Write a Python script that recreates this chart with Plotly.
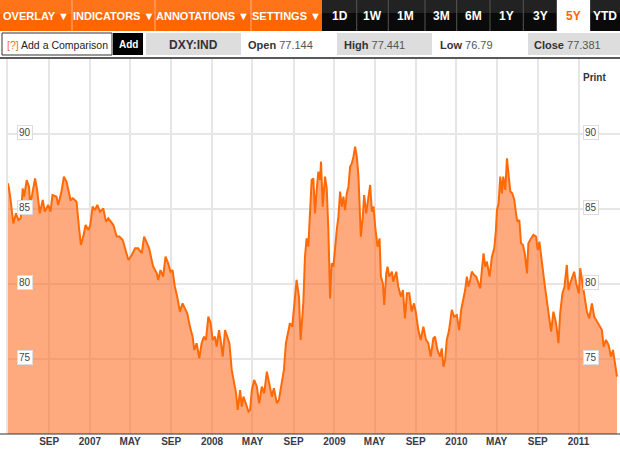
import plotly.graph_objects as go

# ---------------- data ----------------
dates = [
    "2006-05-01", "2006-05-07", "2006-05-17", "2006-05-25", "2006-06-01", "2006-06-08", "2006-06-14", "2006-06-18",
    "2006-06-26", "2006-07-03", "2006-07-06", "2006-07-12", "2006-07-21", "2006-07-27", "2006-08-04", "2006-08-13",
    "2006-08-19", "2006-08-29", "2006-09-05", "2006-09-11", "2006-09-23", "2006-09-28", "2006-10-08", "2006-10-15",
    "2006-10-23", "2006-10-30", "2006-11-04", "2006-11-11", "2006-11-22", "2006-11-29", "2006-12-05", "2006-12-12",
    "2006-12-19", "2006-12-27", "2007-01-02", "2007-01-09", "2007-01-16", "2007-01-23", "2007-01-31", "2007-02-10",
    "2007-02-18", "2007-02-25", "2007-03-04", "2007-03-12", "2007-03-22", "2007-03-30", "2007-04-09", "2007-04-19",
    "2007-04-26", "2007-05-06", "2007-05-16", "2007-05-25", "2007-06-05", "2007-06-12", "2007-06-20", "2007-06-27",
    "2007-07-09", "2007-07-20", "2007-07-24", "2007-07-31", "2007-08-08", "2007-08-15", "2007-08-23", "2007-08-30",
    "2007-09-05", "2007-09-12", "2007-09-19", "2007-09-27", "2007-10-05", "2007-10-12", "2007-10-19", "2007-10-27",
    "2007-11-04", "2007-11-09", "2007-11-16", "2007-11-24", "2007-12-01", "2007-12-08", "2007-12-14", "2007-12-21",
    "2007-12-28", "2008-01-03", "2008-01-10", "2008-01-15", "2008-01-22", "2008-01-28", "2008-02-02", "2008-02-09",
    "2008-02-16", "2008-02-22", "2008-02-29", "2008-03-07", "2008-03-13", "2008-03-18", "2008-03-25", "2008-03-30",
    "2008-04-04", "2008-04-11", "2008-04-19", "2008-04-24", "2008-04-29", "2008-05-06", "2008-05-14", "2008-05-21",
    "2008-05-29", "2008-06-05", "2008-06-13", "2008-06-20", "2008-06-28", "2008-07-04", "2008-07-13", "2008-07-19",
    "2008-07-27", "2008-08-03", "2008-08-09", "2008-08-16", "2008-08-21", "2008-08-28", "2008-09-02", "2008-09-10",
    "2008-09-17", "2008-09-22", "2008-09-30", "2008-10-05", "2008-10-10", "2008-10-15", "2008-10-20", "2008-10-25",
    "2008-10-30", "2008-11-04", "2008-11-09", "2008-11-14", "2008-11-19", "2008-11-22", "2008-11-27", "2008-12-04",
    "2008-12-09", "2008-12-14", "2008-12-19", "2008-12-24", "2008-12-29", "2009-01-03", "2009-01-08", "2009-01-13",
    "2009-01-18", "2009-01-23", "2009-01-28", "2009-02-02", "2009-02-07", "2009-02-12", "2009-02-17", "2009-02-22",
    "2009-02-27", "2009-03-04", "2009-03-09", "2009-03-14", "2009-03-17", "2009-03-21", "2009-03-27", "2009-03-31",
    "2009-04-06", "2009-04-13", "2009-04-18", "2009-04-23", "2009-04-28", "2009-05-03", "2009-05-10", "2009-05-16",
    "2009-05-20", "2009-05-26", "2009-05-30", "2009-06-05", "2009-06-09", "2009-06-14", "2009-06-22", "2009-06-26",
    "2009-07-05", "2009-07-11", "2009-07-19", "2009-07-25", "2009-07-31", "2009-08-06", "2009-08-13", "2009-08-20",
    "2009-08-27", "2009-09-02", "2009-09-09", "2009-09-16", "2009-09-24", "2009-10-02", "2009-10-09", "2009-10-16",
    "2009-10-24", "2009-10-29", "2009-11-05", "2009-11-13", "2009-11-18", "2009-11-23", "2009-11-28", "2009-12-03",
    "2009-12-10", "2009-12-18", "2009-12-25", "2010-01-02", "2010-01-09", "2010-01-15", "2010-01-22", "2010-01-27",
    "2010-02-01", "2010-02-06", "2010-02-11", "2010-02-16", "2010-02-23", "2010-03-01", "2010-03-08", "2010-03-13",
    "2010-03-18", "2010-03-23", "2010-03-28", "2010-04-02", "2010-04-10", "2010-04-17", "2010-04-24", "2010-04-29",
    "2010-05-02", "2010-05-07", "2010-05-12", "2010-05-17", "2010-05-21", "2010-05-27", "2010-06-01", "2010-06-05",
    "2010-06-11", "2010-06-17", "2010-06-23", "2010-06-28", "2010-07-02", "2010-07-08", "2010-07-13", "2010-07-19",
    "2010-07-25", "2010-07-31", "2010-08-04", "2010-08-12", "2010-08-19", "2010-08-27", "2010-09-01", "2010-09-06",
    "2010-09-13", "2010-09-20", "2010-09-28", "2010-10-06", "2010-10-11", "2010-10-18", "2010-10-26", "2010-11-02",
    "2010-11-07", "2010-11-14", "2010-11-20", "2010-11-27", "2010-12-02", "2010-12-07", "2010-12-12", "2010-12-19",
    "2010-12-25", "2011-01-02", "2011-01-06", "2011-01-11", "2011-01-18", "2011-01-26", "2011-02-02", "2011-02-10",
    "2011-02-17", "2011-02-25", "2011-03-04", "2011-03-12", "2011-03-17", "2011-03-24", "2011-04-01", "2011-04-08",
    "2011-04-14", "2011-04-19", "2011-04-26",
]
dxy = [
    86.71, 85.93, 84.04, 84.71, 84.27, 84.38, 86.38, 85.82,
    86.93, 86.49, 85.38, 85.93, 87.04, 86.27, 84.71, 85.60,
    84.82, 85.27, 84.82, 85.93, 85.82, 85.27, 86.16, 87.16,
    86.82, 86.04, 85.60, 85.71, 85.49, 83.82, 82.60, 83.16,
    83.93, 83.60, 83.93, 85.16, 84.93, 85.27, 84.82, 85.04,
    84.16, 84.38, 84.16, 83.93, 83.16, 83.16, 82.93, 82.05,
    81.60, 81.93, 82.38, 82.38, 82.05, 83.16, 82.71, 82.38,
    81.16, 80.71, 80.27, 80.93, 80.49, 81.82, 81.38, 80.82,
    80.93, 79.82, 79.16, 78.16, 78.71, 78.38, 78.05, 77.16,
    76.49, 75.60, 76.05, 75.05, 76.05, 76.49, 76.27, 77.82,
    77.38, 76.27, 76.49, 75.82, 76.93, 76.05, 75.16, 76.93,
    76.49, 76.05, 74.27, 73.38, 72.71, 71.60, 72.93, 71.82,
    72.49, 72.05, 71.49, 71.60, 72.93, 73.60, 73.16, 72.05,
    73.16, 72.71, 74.16, 73.38, 72.49, 73.05, 72.05, 72.27,
    73.38, 74.27, 76.05, 76.71, 77.38, 77.16, 78.27, 80.27,
    79.16, 76.27, 78.71, 81.82, 83.04, 82.49, 84.71, 86.93,
    87.04, 84.71, 86.27, 87.49, 86.93, 88.16, 85.16, 87.16,
    86.38, 83.60, 79.04, 81.38, 81.16, 82.71, 83.60, 84.49,
    86.16, 85.16, 85.82, 84.93, 86.04, 86.49, 87.82, 88.04,
    88.49, 89.16, 88.49, 87.16, 85.16, 83.16, 84.49, 85.93,
    84.71, 85.82, 86.60, 84.82, 85.16, 83.82, 82.49, 83.04,
    80.49, 80.04, 78.60, 80.71, 81.16, 80.49, 80.82, 80.16,
    80.82, 79.82, 79.16, 79.60, 77.71, 79.38, 79.38, 78.16,
    78.71, 78.05, 76.93, 76.27, 77.16, 76.27, 76.05, 75.16,
    76.38, 76.49, 75.60, 75.16, 75.71, 74.49, 74.93, 76.27,
    76.93, 78.27, 77.82, 77.93, 76.93, 78.27, 78.93, 79.60,
    80.49, 79.82, 80.27, 80.82, 80.60, 80.49, 80.04, 79.71,
    80.93, 82.05, 81.16, 81.49, 80.49, 81.82, 82.38, 83.60,
    84.93, 85.38, 87.16, 86.04, 87.16, 86.27, 88.38, 87.60,
    86.16, 86.04, 85.60, 84.71, 84.16, 84.27, 82.71, 82.60,
    81.93, 80.71, 82.71, 83.04, 83.27, 83.16, 82.27, 82.82,
    81.38, 80.27, 78.93, 77.60, 76.82, 78.16, 77.38, 76.05,
    78.05, 79.38, 79.82, 81.27, 79.60, 80.04, 80.38, 80.82,
    80.04, 79.38, 81.05, 80.27, 79.16, 78.16, 77.71, 78.71,
    77.82, 77.49, 77.16, 76.93, 75.82, 76.27, 75.93, 75.16,
    75.60, 74.71, 73.82,
]

x_tick_vals = ["2006-09-01", "2007-01-01", "2007-05-01", "2007-09-01", "2008-01-01", "2008-05-01",
               "2008-09-01", "2009-01-01", "2009-05-01", "2009-09-01", "2010-01-01", "2010-05-01",
               "2010-09-01", "2011-01-01"]
x_tick_text = ["SEP", "2007", "MAY", "SEP", "2008", "MAY", "SEP", "2009", "MAY", "SEP", "2010",
               "MAY", "SEP", "2011"]
y_ticks = [75, 80, 85, 90]

menu_labels = ["OVERLAY ▼", "INDICATORS ▼", "ANNOTATIONS ▼", "SETTINGS ▼"]
range_labels = ["1D", "1W", "1M", "3M", "6M", "1Y", "3Y", "5Y", "YTD"]
selected_range = "5Y"
symbol = "DXY:IND"
quote = {"Open": "77.144", "High": "77.441", "Low": "76.79", "Close": "77.381"}

# ---------------- layout helpers (pixel -> paper) ----------------
W, H = 620, 454
def px(x):
    return x / W
def py(y):
    return 1 - y / H

FONT = "Arial, Liberation Sans, sans-serif"
ORANGE = "#FF6600"

fig = go.Figure()
fig.add_trace(go.Scatter(
    x=dates, y=dxy, mode="lines",
    line=dict(color="#FF6A08", width=2),
    fill="tozeroy", fillcolor="rgba(255,100,20,0.55)",
    hoverinfo="x+y", showlegend=False,
))

shapes = []
annotations = []

# top menu bar (orange)
shapes.append(dict(type="rect", xref="paper", yref="paper", x0=px(0), x1=px(322), y0=py(31), y1=py(0),
                   fillcolor="#FF6600", line=dict(width=0), layer="above"))
shapes.append(dict(type="rect", xref="paper", yref="paper", x0=px(0), x1=px(322), y0=py(14), y1=py(0),
                   fillcolor="#FF7418", line=dict(width=0), layer="above"))
menu_sep = [72, 155, 251]
menu_cx = [36, 113, 203, 286]
for s in menu_sep:
    shapes.append(dict(type="line", xref="paper", yref="paper", x0=px(s), x1=px(s), y0=py(31), y1=py(0),
                       line=dict(color="#FFB080", width=1), layer="above"))
for lab, cx in zip(menu_labels, menu_cx):
    annotations.append(dict(x=px(cx), y=py(16), xref="paper", yref="paper", text="<b>%s</b>" % lab,
                            showarrow=False, font=dict(family=FONT, size=11, color="white"),
                            xanchor="center", yanchor="middle"))

# range buttons (black)
shapes.append(dict(type="rect", xref="paper", yref="paper", x0=px(322), x1=px(620), y0=py(31), y1=py(0),
                   fillcolor="#0A0A0A", line=dict(width=0), layer="above"))
shapes.append(dict(type="rect", xref="paper", yref="paper", x0=px(322), x1=px(620), y0=py(13), y1=py(0),
                   fillcolor="#222222", line=dict(width=0), layer="above"))
range_sep = [356.7, 388.3, 425, 456.7, 490, 523.3, 556.7, 590]
range_cx = [340, 372, 406, 441, 473, 506, 540, 573.5, 605]
for s in range_sep:
    shapes.append(dict(type="line", xref="paper", yref="paper", x0=px(s), x1=px(s), y0=py(31), y1=py(0),
                       line=dict(color="#555555", width=1), layer="above"))
shapes.append(dict(type="rect", xref="paper", yref="paper", x0=px(557), x1=px(590), y0=py(31), y1=py(0),
                   fillcolor="white", line=dict(width=0), layer="above"))
for lab, cx in zip(range_labels, range_cx):
    col = ORANGE if lab == selected_range else "white"
    annotations.append(dict(x=px(cx), y=py(16), xref="paper", yref="paper", text="<b>%s</b>" % lab,
                            showarrow=False, font=dict(family=FONT, size=12, color=col),
                            xanchor="center", yanchor="middle"))

# second row: comparison / quote
shapes.append(dict(type="rect", xref="paper", yref="paper", x0=px(2), x1=px(112), y0=py(55), y1=py(33),
                   fillcolor="white", line=dict(color="#333333", width=1), layer="above"))
annotations.append(dict(x=px(5), y=py(44.5), xref="paper", yref="paper",
                        text="<span style='color:#E8742A'>[?]</span> Add a Comparison",
                        showarrow=False, font=dict(family=FONT, size=10.5, color="#222222"),
                        xanchor="left", yanchor="middle"))
shapes.append(dict(type="rect", xref="paper", yref="paper", x0=px(113), x1=px(143), y0=py(55), y1=py(33),
                   fillcolor="black", line=dict(width=0), layer="above"))
annotations.append(dict(x=px(128), y=py(44.5), xref="paper", yref="paper", text="<b>Add</b>",
                        showarrow=False, font=dict(family=FONT, size=10, color="white"),
                        xanchor="center", yanchor="middle"))
shapes.append(dict(type="rect", xref="paper", yref="paper", x0=px(146), x1=px(241), y0=py(55), y1=py(33),
                   fillcolor="#DDDDDD", line=dict(width=0), layer="above"))
annotations.append(dict(x=px(193.5), y=py(44.5), xref="paper", yref="paper", text="<b>%s</b>" % symbol,
                        showarrow=False, font=dict(family=FONT, size=12, color="#333333"),
                        xanchor="center", yanchor="middle"))
quote_boxes = {"High": (337, 432), "Close": (528, 620)}
quote_x = {"Open": 246, "High": 342, "Low": 438, "Close": 532}
for k, v in quote.items():
    if k in quote_boxes:
        a, b = quote_boxes[k]
        shapes.append(dict(type="rect", xref="paper", yref="paper", x0=px(a), x1=px(b), y0=py(55), y1=py(33),
                           fillcolor="#DDDDDD", line=dict(width=0), layer="above"))
    annotations.append(dict(x=px(quote_x[k]), y=py(44.5), xref="paper", yref="paper",
                            text="<b>%s</b> <span style='color:#555555'>%s</span>" % (k, v),
                            showarrow=False, font=dict(family=FONT, size=11, color="#333333"),
                            xanchor="left", yanchor="middle"))
shapes.append(dict(type="line", xref="paper", yref="paper", x0=0, x1=1, y0=py(58), y1=py(58),
                   line=dict(color="#222222", width=1.5), layer="above"))

# bottom axis line
shapes.append(dict(type="line", xref="paper", yref="paper", x0=0, x1=1, y0=py(434), y1=py(434),
                   line=dict(color="#333333", width=1.2), layer="above"))

# "Print"
annotations.append(dict(x=px(594), y=py(77), xref="paper", yref="paper", text="<b>Print</b>",
                        showarrow=False, font=dict(family=FONT, size=10, color="#333333"),
                        xanchor="center", yanchor="middle"))

# boxed y labels on both sides
for v in y_ticks:
    for xc in (25, 591):
        annotations.append(dict(x=px(xc), y=v, xref="paper", yref="y", text=str(v), yshift=2,
                                showarrow=False, font=dict(family=FONT, size=10, color="#444444"),
                                bgcolor="white", bordercolor="#DDDDDD", borderwidth=1, borderpad=1,
                                xanchor="center", yanchor="middle"))

fig.update_layout(
    width=W, height=H,
    margin=dict(l=0, r=0, t=0, b=0),
    paper_bgcolor="white", plot_bgcolor="white",
    shapes=shapes, annotations=annotations,
    xaxis=dict(
        domain=[px(8), 1], range=["2006-05-01", "2011-05-05"],
        tickvals=x_tick_vals, ticktext=x_tick_text, ticks="",
        tickfont=dict(family=FONT, size=10, color="#3A3A48", weight="bold"),
        showgrid=True, gridcolor="#E6E6E6", gridwidth=1.5, zeroline=False, showline=False,
        fixedrange=True,
    ),
    yaxis=dict(
        domain=[1 - 434 / H, 1 - 59 / H], range=[70, 95],
        tickvals=y_ticks, showticklabels=False, ticks="",
        showgrid=True, gridcolor="#E6E6E6", gridwidth=1.5, zeroline=False,
        showline=True, linecolor="#E6E6E6", linewidth=1.5,
        fixedrange=True,
    ),
    showlegend=False,
)

fig.write_html(
    "out.html",
    config={"displayModeBar": False},
    post_script="document.body.style.margin='0px';document.body.style.padding='0px';"
                "document.documentElement.style.overflow='hidden';",
)
